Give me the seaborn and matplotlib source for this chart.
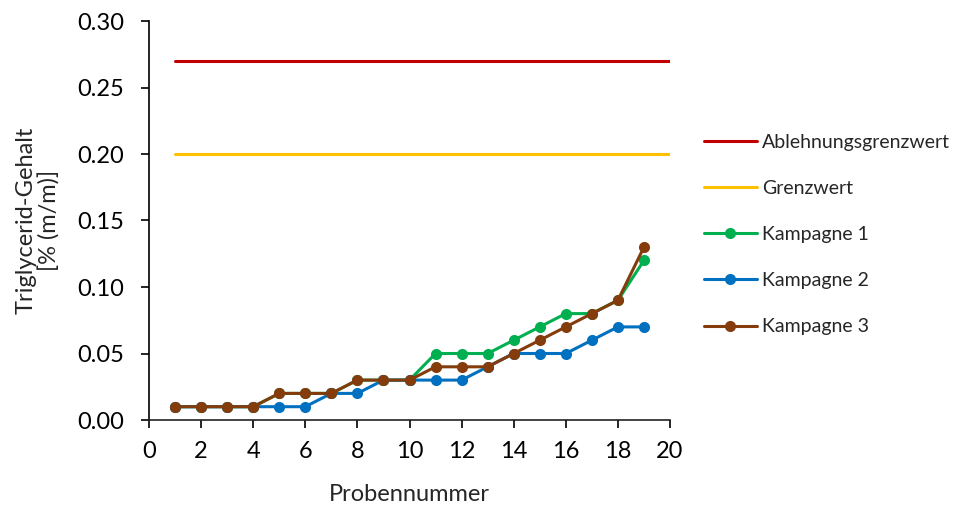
import numpy as np
import pandas as pd
import seaborn as sns
import matplotlib.pyplot as plt

# Data
proben = list(range(1, 20))
kampagne_1 = [0.01, 0.01, 0.01, 0.01, 0.02, 0.02, 0.02, 0.03, 0.03, 0.03,
              0.05, 0.05, 0.05, 0.06, 0.07, 0.08, 0.08, 0.09, 0.12]
kampagne_2 = [0.01, 0.01, 0.01, 0.01, 0.01, 0.01, 0.02, 0.02, 0.03, 0.03,
              0.03, 0.03, 0.04, 0.05, 0.05, 0.05, 0.06, 0.07, 0.07]
kampagne_3 = [0.01, 0.01, 0.01, 0.01, 0.02, 0.02, 0.02, 0.03, 0.03, 0.03,
              0.04, 0.04, 0.04, 0.05, 0.06, 0.07, 0.08, 0.09, 0.13]
grenz_x = [1, 20]
ablehnungsgrenzwert = [0.27, 0.27]
grenzwert = [0.20, 0.20]

sns.set_theme(style="white")
plt.rcParams['font.family'] = ['Lato', 'DejaVu Sans']

fig = plt.figure(figsize=(9.58, 5.11), dpi=100)
ax = fig.add_axes([149 / 958, 91 / 511, 521 / 958, 399 / 511])

# Limit lines
limits = pd.DataFrame({
    'x': grenz_x * 2,
    'y': ablehnungsgrenzwert + grenzwert,
    'serie': ['Ablehnungsgrenzwert'] * 2 + ['Grenzwert'] * 2,
})
sns.lineplot(data=limits, x='x', y='y', hue='serie',
             palette=['#C00000', '#FFC000'], linewidth=2.2, ax=ax)

# Campaigns
kampagnen = pd.DataFrame({
    'x': proben * 3,
    'y': kampagne_1 + kampagne_2 + kampagne_3,
    'serie': ['Kampagne 1'] * 19 + ['Kampagne 2'] * 19 + ['Kampagne 3'] * 19,
})
sns.lineplot(data=kampagnen, x='x', y='y', hue='serie',
             palette=['#00B050', '#0070C0', '#843C0C'], linewidth=2.2,
             marker='o', markersize=8, markeredgewidth=0, ax=ax)

ax.set_xlim(0, 20)
ax.set_ylim(0, 0.30)
ax.set_xticks(np.arange(0, 21, 2))
ax.set_yticks(np.arange(0, 0.31, 0.05))
ax.set_yticklabels([f'{v:.2f}' for v in np.arange(0, 0.31, 0.05)])
ax.tick_params(axis='both', labelsize=17, direction='out', length=6,
               width=1.2, colors='black', left=True, bottom=True)
ax.tick_params(axis='y', pad=12)
ax.tick_params(axis='x', pad=9)
sns.despine(ax=ax)
ax.spines['left'].set_color('black')
ax.spines['bottom'].set_color('#222222')
ax.spines['left'].set_linewidth(1.2)
ax.spines['bottom'].set_linewidth(1.2)

ax.set_xlabel('Probennummer', fontsize=17, labelpad=16)
ax.set_ylabel('Triglycerid-Gehalt\n[% (m/m)]', fontsize=17, labelpad=12,
              linespacing=1.1)

ax.legend(loc='center left', bbox_to_anchor=(704 / 958, 0.541),
          bbox_transform=fig.transFigure, borderpad=0, borderaxespad=0,
          frameon=False, fontsize=14, labelspacing=1.5, handlelength=2.7,
          handletextpad=0.3)

fig.savefig('out.png', dpi=100)
